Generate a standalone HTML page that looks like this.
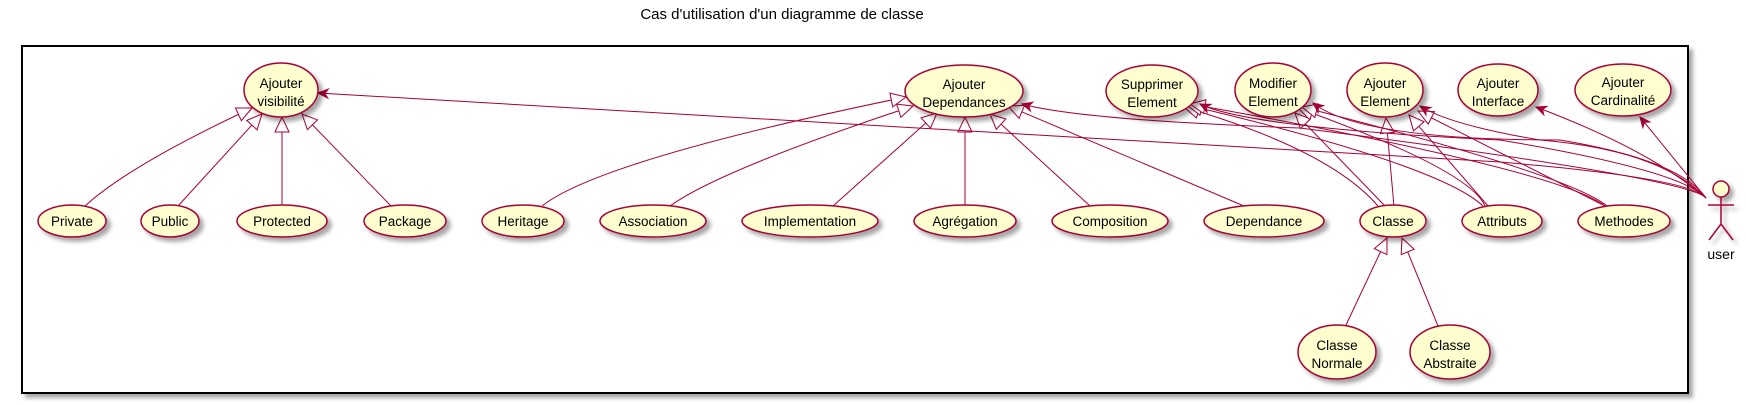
<!DOCTYPE html>
<html><head><meta charset="utf-8"><style>
html,body{margin:0;padding:0;background:#fff}
svg{display:block}
text{font-family:"Liberation Sans",sans-serif;fill:#000}
</style></head><body>
<svg width="1746" height="405" viewBox="0 0 1746 405" xmlns="http://www.w3.org/2000/svg">
<defs>
<marker id="tri" markerUnits="userSpaceOnUse" markerWidth="20" markerHeight="20" refX="0" refY="0" orient="auto" overflow="visible">
<path d="M0,0 L15,-7 L15,7 Z" fill="#fff" stroke="#A80036" stroke-width="1"/>
</marker>
<marker id="arr" markerUnits="userSpaceOnUse" markerWidth="20" markerHeight="20" refX="0" refY="0" orient="auto" overflow="visible">
<path d="M0,0 L-10,-4.5 L-7,0 L-10,4.5 Z" fill="#A80036" stroke="#A80036" stroke-width="1"/>
</marker>
<filter id="sh" x="-20%" y="-20%" width="150%" height="150%">
<feGaussianBlur in="SourceAlpha" stdDeviation="2"/>
<feOffset dx="4" dy="4"/>
<feComponentTransfer><feFuncA type="linear" slope="0.35"/></feComponentTransfer>
<feMerge><feMergeNode/><feMergeNode in="SourceGraphic"/></feMerge>
</filter>
</defs>

<text x="782" y="19" font-size="15" text-anchor="middle">Cas d'utilisation d'un diagramme de classe</text>

<rect x="22" y="46" width="1666" height="347" fill="#fff" stroke="#000" stroke-width="2" filter="url(#sh)"/>

<g fill="none" stroke="#A80036" stroke-width="1">
<path d="M252,108 Q130,165 85,206" marker-start="url(#tri)"/>
<path d="M262,114 L178,206" marker-start="url(#tri)"/>
<path d="M282,117 L282,206" marker-start="url(#tri)"/>
<path d="M302,114 L391,206" marker-start="url(#tri)"/>
<path d="M906,97 Q600,160 542,206" marker-start="url(#tri)"/>
<path d="M913,106 Q720,170 670,206" marker-start="url(#tri)"/>
<path d="M937,113 L833,206" marker-start="url(#tri)"/>
<path d="M965,117 L965,206" marker-start="url(#tri)"/>
<path d="M990,114 L1090,206" marker-start="url(#tri)"/>
<path d="M1008,106 L1244,206" marker-start="url(#tri)"/>
<path d="M1184,107 Q1330,150 1378,206" marker-start="url(#tri)"/>
<path d="M1295,113 L1385,206" marker-start="url(#tri)"/>
<path d="M1386,118 L1394,206" marker-start="url(#tri)"/>
<path d="M1187,105 Q1440,165 1483,206" marker-start="url(#tri)"/>
<path d="M1298,108 Q1470,170 1485,206" marker-start="url(#tri)"/>
<path d="M1409,115 L1488,206" marker-start="url(#tri)"/>
<path d="M1190,104 Q1560,170 1605,206" marker-start="url(#tri)"/>
<path d="M1302,107 Q1570,175 1607,206" marker-start="url(#tri)"/>
<path d="M1418,111 L1605,206" marker-start="url(#tri)"/>
<path d="M1387,238 L1346,325" marker-start="url(#tri)"/>
<path d="M1402,238 L1438,326" marker-start="url(#tri)"/>
<path d="M1706,198 Q1690,178 1500,162 L318,93" marker-end="url(#arr)"/>
<path d="M1706,198 Q1690,178 1300,128 Q1080,120 1022,104" marker-end="url(#arr)"/>
<path d="M1706,198 Q1680,170 1500,140 Q1250,128 1200,104" marker-end="url(#arr)"/>
<path d="M1706,198 Q1680,160 1560,140 Q1360,140 1313,103" marker-end="url(#arr)"/>
<path d="M1706,198 Q1660,150 1540,140 Q1450,125 1420,106" marker-end="url(#arr)"/>
<path d="M1706,198 Q1650,150 1536,107" marker-end="url(#arr)"/>
<path d="M1706,198 L1640,117" marker-end="url(#arr)"/>
</g>

<g fill="#FEFECE" stroke="#A80036" stroke-width="1.5" filter="url(#sh)">
<ellipse cx="281" cy="90" rx="37" ry="27"/>
<ellipse cx="964" cy="91" rx="59" ry="26"/>
<ellipse cx="1152" cy="91" rx="46" ry="26"/>
<ellipse cx="1273" cy="90" rx="38" ry="27"/>
<ellipse cx="1385" cy="90" rx="38" ry="27"/>
<ellipse cx="1498" cy="90" rx="40" ry="26"/>
<ellipse cx="1623" cy="90" rx="48" ry="26"/>
<ellipse cx="72" cy="221" rx="34" ry="16"/>
<ellipse cx="170" cy="221" rx="29" ry="16"/>
<ellipse cx="282" cy="221" rx="45" ry="16"/>
<ellipse cx="405" cy="221" rx="41" ry="16"/>
<ellipse cx="523" cy="221" rx="41" ry="16"/>
<ellipse cx="653" cy="221" rx="53" ry="16"/>
<ellipse cx="810" cy="221" rx="68" ry="16"/>
<ellipse cx="965" cy="221" rx="51" ry="16"/>
<ellipse cx="1110" cy="221" rx="58" ry="16"/>
<ellipse cx="1264" cy="221" rx="60" ry="16"/>
<ellipse cx="1393" cy="221" rx="33" ry="16"/>
<ellipse cx="1502" cy="221" rx="40" ry="16"/>
<ellipse cx="1624" cy="221" rx="46" ry="16"/>
<ellipse cx="1337" cy="352" rx="39" ry="27"/>
<ellipse cx="1450" cy="352" rx="40" ry="27"/>
</g>

<g font-size="13.5" text-anchor="middle">
<text x="281" y="88">Ajouter</text><text x="281" y="106">visibilité</text>
<text x="964" y="89">Ajouter</text><text x="964" y="107">Dependances</text>
<text x="1152" y="89">Supprimer</text><text x="1152" y="107">Element</text>
<text x="1273" y="88">Modifier</text><text x="1273" y="106">Element</text>
<text x="1385" y="88">Ajouter</text><text x="1385" y="106">Element</text>
<text x="1498" y="88">Ajouter</text><text x="1498" y="106">Interface</text>
<text x="1623" y="87">Ajouter</text><text x="1623" y="105">Cardinalité</text>
<text x="72" y="226">Private</text>
<text x="170" y="226">Public</text>
<text x="282" y="226">Protected</text>
<text x="405" y="226">Package</text>
<text x="523" y="226">Heritage</text>
<text x="653" y="226">Association</text>
<text x="810" y="226">Implementation</text>
<text x="965" y="226">Agrégation</text>
<text x="1110" y="226">Composition</text>
<text x="1264" y="226">Dependance</text>
<text x="1393" y="226">Classe</text>
<text x="1502" y="226">Attributs</text>
<text x="1624" y="226">Methodes</text>
<text x="1337" y="350">Classe</text><text x="1337" y="368">Normale</text>
<text x="1450" y="350">Classe</text><text x="1450" y="368">Abstraite</text>
</g>

<g stroke="#A80036" stroke-width="1.5" fill="none" filter="url(#sh)">
<circle cx="1721" cy="189" r="8" fill="#FEFECE"/>
<path d="M1721,197 L1721,224 M1708,205 L1734,205 M1721,224 L1709,240 M1721,224 L1733,240"/>
</g>
<text x="1721" y="259" font-size="14" text-anchor="middle">user</text>
</svg>
</body></html>
